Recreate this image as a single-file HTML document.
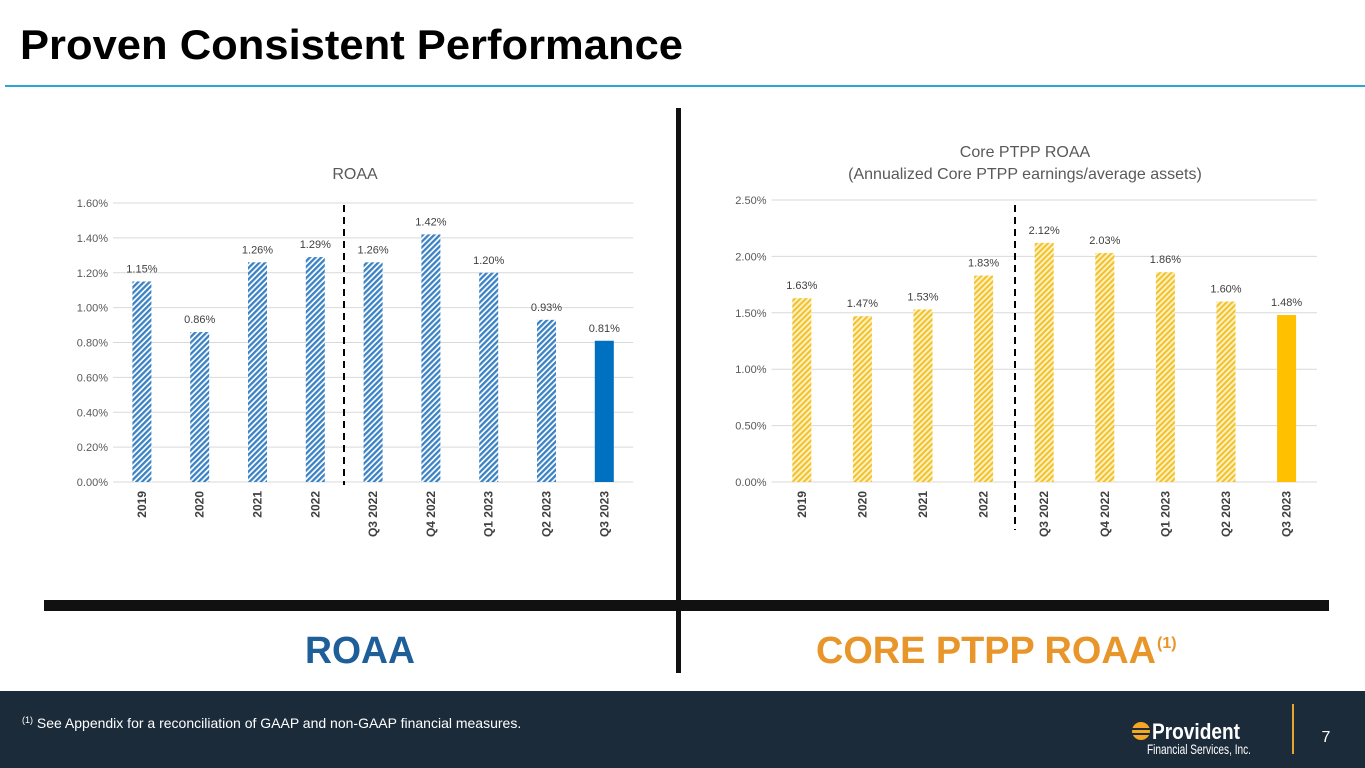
<!DOCTYPE html>
<html><head><meta charset="utf-8"><style>
body{margin:0;width:1365px;height:768px;overflow:hidden;background:#fff;font-family:"Liberation Sans",sans-serif}
svg{display:block}
</style></head><body>
<svg id="s" width="1365" height="768" viewBox="0 0 1365 768">
<defs>
<pattern id="hb" patternUnits="userSpaceOnUse" width="4" height="4" patternTransform="rotate(45)">
<rect width="4" height="4" fill="#fff"/><rect width="2.3" height="4" fill="#3a82c4"/></pattern>
<pattern id="hy" patternUnits="userSpaceOnUse" width="4" height="4" patternTransform="rotate(45)">
<rect width="4" height="4" fill="#fff5cc"/><rect width="2.2" height="4" fill="#f2c230"/></pattern>
</defs>
<text x="20" y="59" font-size="42" font-weight="bold" fill="#000" textLength="663" lengthAdjust="spacingAndGlyphs">Proven Consistent Performance</text>
<rect x="5" y="85" width="1360" height="2" fill="#2aa7d8"/>
<rect x="676" y="108" width="5" height="565" fill="#111"/>
<rect x="44" y="600" width="1285" height="11" fill="#111"/>
<text x="360" y="663" font-size="38" font-weight="bold" fill="#1f5f99" text-anchor="middle" textLength="110" lengthAdjust="spacingAndGlyphs">ROAA</text>
<text x="986" y="663" font-size="38" font-weight="bold" fill="#e8952a" text-anchor="middle" textLength="340" lengthAdjust="spacingAndGlyphs">CORE PTPP ROAA</text>
<text x="1157" y="648" font-size="16" font-weight="bold" fill="#e8952a">(1)</text>
<rect x="0" y="691" width="1365" height="77" fill="#1c2b3a"/>
<text x="22" y="728" font-size="14" fill="#fff"><tspan font-size="9" dy="-5">(1)</tspan><tspan dy="5"> See Appendix for a reconciliation of GAAP and non-GAAP financial measures.</tspan></text>
<g>
<circle cx="1141" cy="731" r="9" fill="#f5a623"/>
<rect x="1131" y="728" width="20" height="2" fill="#1c2b3a"/><rect x="1131" y="733" width="20" height="2" fill="#1c2b3a"/>
<text x="1152" y="739" font-size="22" font-weight="bold" fill="#fff" textLength="88" lengthAdjust="spacingAndGlyphs">Provident</text>
<text x="1147" y="754" font-size="14" fill="#fff" textLength="104" lengthAdjust="spacingAndGlyphs">Financial Services, Inc.</text>
</g>
<rect x="1292" y="704" width="2" height="50" fill="#e8a630"/>
<text x="1326" y="742" font-size="16" fill="#fff" text-anchor="middle">7</text>
<g id="c1"></g><g id="c2"></g>
</svg>
<script>
const cats=["2019","2020","2021","2022","Q3 2022","Q4 2022","Q1 2023","Q2 2023","Q3 2023"];
const roaaVals=[1.15,0.86,1.26,1.29,1.26,1.42,1.20,0.93,0.81];
const roaaTicks=[0,0.2,0.4,0.6,0.8,1.0,1.2,1.4,1.6];
const ptppVals=[1.63,1.47,1.53,1.83,2.12,2.03,1.86,1.60,1.48];
const ptppTicks=[0,0.5,1.0,1.5,2.0,2.5];
const NS="http://www.w3.org/2000/svg";
function mk(p,t,a,txt){const e=document.createElementNS(NS,t);for(const k in a)e.setAttribute(k,a[k]);if(txt!=null)e.textContent=txt;p.appendChild(e);return e;}
function chart(g,o){
 const y=v=>o.y0-(v/o.max)*(o.y0-o.y1);
 const x=i=>o.x0+o.step*(i+0.5);
 o.ticks.forEach(t=>{
  const l=mk(g,'line',{x1:o.x0,x2:o.x0+o.step*cats.length,y1:y(t),y2:y(t),stroke:'#d9d9d9','stroke-width':1});
  
  
  const tx=mk(g,'text',{x:o.x0-5,y:y(t)+4,'font-size':11,fill:'#595959','text-anchor':'end'},t.toFixed(2)+'%');
  
  
 });
 o.vals.forEach((v,i)=>{
  const last=i===o.vals.length-1;
  const r=mk(g,'rect',{x:x(i)-9.5,y:y(v),width:19,height:y(0)-y(v),fill:last?o.solid:o.pat});
  
  
  const t=mk(g,'text',{x:x(i),y:y(v)-9,'font-size':11,fill:'#404040','text-anchor':'middle'},v.toFixed(2)+'%');
  
  
  const c=mk(g,'text',{x:0,y:0,'font-size':12,'font-weight':'bold',fill:'#404040','text-anchor':'end',transform:`translate(${x(i)+4},${y(0)+9}) rotate(-90)`},cats[i]);
  
  
 });
 const d=mk(g,'line',{x1:o.dx,x2:o.dx,y1:205,y2:o.dy2,stroke:'#000','stroke-width':2,'stroke-dasharray':'7,5'});
 
 
 o.titles.forEach((tt,k)=>{
  const t=mk(g,'text',{x:o.tx,y:o.ty+k*22,'font-size':16,fill:'#595959','text-anchor':'middle'},tt);
  
  
 });
}
chart(document.getElementById('c1'),{vals:roaaVals,ticks:roaaTicks,max:1.6,x0:113,step:57.8,y0:482,y1:203,pat:'url(#hb)',solid:'#0070c0',dx:344,dy2:485,titles:['ROAA'],tx:355,ty:179});
chart(document.getElementById('c2'),{vals:ptppVals,ticks:ptppTicks,max:2.5,x0:771.5,step:60.6,y0:482,y1:200,pat:'url(#hy)',solid:'#ffc000',dx:1015,dy2:530,titles:['Core PTPP ROAA','(Annualized Core PTPP earnings/average assets)'],tx:1025,ty:157});
</script>
</body></html>
